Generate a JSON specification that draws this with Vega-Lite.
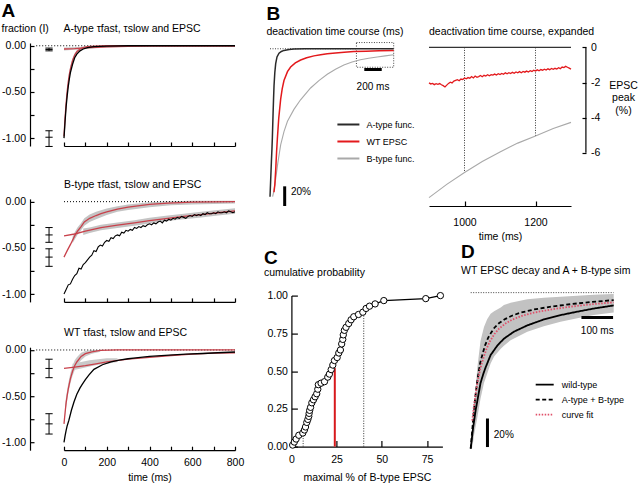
{
  "$schema": "https://vega.github.io/schema/vega-lite/v6.json",
  "background": "white",
  "padding": {"left": 1, "top": 2, "right": 0, "bottom": 0},
  "config": {
    "font": "Liberation Sans",
    "view": {"stroke": null},
    "axis": {"grid": false, "labelFontSize": 10.5, "labelColor": "#000", "domainColor": "#000", "tickColor": "#000", "titleFontWeight": "normal", "titleFontSize": 10.5, "titleColor": "#000", "labelFlush": false, "labelOverlap": false, "domainWidth": 1.2, "tickWidth": 1.2},
    "title": {"fontSize": 10.5, "fontWeight": "normal", "anchor": "start", "color": "#000", "subtitleFontSize": 10.5, "subtitleColor": "#000", "subtitleFont": "Liberation Sans"},
    "legend": {"labelFontSize": 9, "labelColor": "#000"},
    "locale": {"number": {"decimal": ".", "thousands": ",", "grouping": [3], "currency": ["$", ""], "minus": "-"}}
  },
  "resolve": {"scale": {"color": "independent", "strokeDash": "independent"}},
  "bounds": "flush",
  "spacing": 227.4,
  "hconcat": [
    {
      "title": {"text": "A", "fontSize": 19, "fontWeight": "bold", "frame": "bounds", "offset": 3},
      "bounds": "flush",
      "spacing": 52.9,
      "vconcat": [
        {
          "width": 171, "height": 103,
          "title": {"text": "fraction (I)\u00a0\u00a0\u00a0\u00a0\u00a0A-type τfast, τslow and EPSC", "offset": 6, "frame": "bounds"},
          "encoding": {
            "x": {"field": "t", "type": "quantitative", "scale": {"domain": [0, 800], "nice": false, "zero": false}, "axis": {"values": [0,100,200,300,400,500,600,700,800], "labels": false, "tickSize": -4, "title": null}},
            "y": {"field": "v", "type": "quantitative", "scale": {"domain": [-1.085, 0.03], "nice": false, "zero": false}, "axis": {"values": [-1,-0.75,-0.5,-0.25,0], "labelExpr": "datum.value % 0.5 === 0 ? format(datum.value, '.2f') : ''", "offset": 34, "tickSize": -4, "labelPadding": 8.5, "title": null}}
          },
          "layer": [
            {"data": {"values": [
              {"c":"f","t":0,"v":-1.0,"v2":-0.95},{"c":"f","t":5,"v":-0.81,"v2":-0.75},{"c":"f","t":10,"v":-0.65,"v2":-0.59},{"c":"f","t":15,"v":-0.52,"v2":-0.46},{"c":"f","t":20,"v":-0.42,"v2":-0.36},{"c":"f","t":25,"v":-0.34,"v2":-0.28},{"c":"f","t":30,"v":-0.28,"v2":-0.22},{"c":"f","t":40,"v":-0.185,"v2":-0.135},{"c":"f","t":50,"v":-0.12,"v2":-0.08},{"c":"f","t":60,"v":-0.085,"v2":-0.045},{"c":"f","t":75,"v":-0.05,"v2":-0.02},{"c":"f","t":90,"v":-0.035,"v2":-0.008},{"c":"f","t":110,"v":-0.02,"v2":0},{"c":"f","t":150,"v":-0.008,"v2":0},
              {"c":"s","t":0,"v":-0.05,"v2":-0.02},{"c":"s","t":100,"v":-0.035,"v2":-0.01},{"c":"s","t":200,"v":-0.02,"v2":-0.003},{"c":"s","t":300,"v":-0.01,"v2":0}
            ]},
             "mark": {"type": "area", "color": "#c9c9c9"},
             "encoding": {"y2": {"field": "v2"}, "detail": {"field": "c"}}},
            {"data": {"values": [{"t": -130, "t2": 800, "v": 0}]},
             "mark": {"type": "rule", "strokeDash": [1, 2], "color": "#000", "strokeWidth": 1},
             "encoding": {"x2": {"field": "t2"}}},
            {"data": {"values": [
              {"c":"f","t":0,"v":-0.98},{"c":"f","t":5,"v":-0.78},{"c":"f","t":10,"v":-0.62},{"c":"f","t":15,"v":-0.49},{"c":"f","t":20,"v":-0.39},{"c":"f","t":25,"v":-0.31},{"c":"f","t":30,"v":-0.25},{"c":"f","t":40,"v":-0.16},{"c":"f","t":50,"v":-0.10},{"c":"f","t":60,"v":-0.065},{"c":"f","t":75,"v":-0.035},{"c":"f","t":90,"v":-0.02},{"c":"f","t":110,"v":-0.01},{"c":"f","t":150,"v":-0.003},{"c":"f","t":200,"v":0},{"c":"f","t":800,"v":0},
              {"c":"s","t":0,"v":-0.035},{"c":"s","t":50,"v":-0.03},{"c":"s","t":100,"v":-0.022},{"c":"s","t":150,"v":-0.016},{"c":"s","t":200,"v":-0.011},{"c":"s","t":300,"v":-0.005},{"c":"s","t":400,"v":-0.002},{"c":"s","t":800,"v":0}
            ]},
             "mark": {"type": "line", "color": "#c8414b", "strokeWidth": 1.3},
             "encoding": {"detail": {"field": "c"}}},
            {"data": {"values": [
              {"t":0,"v":-1.0},{"t":5,"v":-0.82},{"t":10,"v":-0.66},{"t":15,"v":-0.54},{"t":20,"v":-0.44},{"t":25,"v":-0.36},{"t":30,"v":-0.29},{"t":40,"v":-0.20},{"t":50,"v":-0.13},{"t":60,"v":-0.09},{"t":75,"v":-0.055},{"t":90,"v":-0.035},{"t":110,"v":-0.02},{"t":140,"v":-0.01},{"t":200,"v":-0.004},{"t":300,"v":0},{"t":800,"v":0}
            ]},
             "mark": {"type": "line", "color": "#000", "strokeWidth": 1.3}},
            {"data": {"values": [{"t": -70, "v": -0.055, "v2": -0.025}, {"t": -70, "v": -1.09, "v2": -0.92}]},
             "mark": {"type": "rule", "color": "#000", "strokeWidth": 1},
             "encoding": {"y2": {"field": "v2"}}},
            {"data": {"values": [
              {"t": -87, "t2": -53, "v": -0.055}, {"t": -87, "t2": -53, "v": -0.04}, {"t": -87, "t2": -53, "v": -0.025},
              {"t": -87, "t2": -53, "v": -1.09}, {"t": -87, "t2": -53, "v": -0.99}, {"t": -87, "t2": -53, "v": -0.92}
            ]},
             "mark": {"type": "rule", "color": "#000", "strokeWidth": 1},
             "encoding": {"x2": {"field": "t2"}}}
          ]
        },
        {
          "bounds": "flush",
          "spacing": 45.3,
          "vconcat": [
            {
              "width": 171, "height": 103,
              "title": {"text": "B-type τfast, τslow and EPSC", "offset": 6, "frame": "group"},
              "encoding": {
                "x": {"field": "t", "type": "quantitative", "scale": {"domain": [0, 800], "nice": false, "zero": false}, "axis": {"values": [0,100,200,300,400,500,600,700,800], "labels": false, "tickSize": -4, "title": null}},
                "y": {"field": "v", "type": "quantitative", "scale": {"domain": [-1.085, 0.03], "nice": false, "zero": false}, "axis": {"values": [-1,-0.75,-0.5,-0.25,0], "labelExpr": "datum.value % 0.5 === 0 ? format(datum.value, '.2f') : ''", "offset": 34, "tickSize": -4, "labelPadding": 8.5, "title": null}}
              },
              "layer": [
                {"data": {"values": [
                  {"c":"f","t":40,"v":-0.45,"v2":-0.38},{"c":"f","t":50,"v":-0.41,"v2":-0.33},{"c":"f","t":63,"v":-0.36,"v2":-0.28},{"c":"f","t":80,"v":-0.31,"v2":-0.23},{"c":"f","t":95,"v":-0.26,"v2":-0.18},{"c":"f","t":120,"v":-0.22,"v2":-0.14},{"c":"f","t":150,"v":-0.19,"v2":-0.11},{"c":"f","t":200,"v":-0.145,"v2":-0.075},{"c":"f","t":250,"v":-0.11,"v2":-0.05},{"c":"f","t":300,"v":-0.09,"v2":-0.03},{"c":"f","t":400,"v":-0.06,"v2":-0.005},{"c":"f","t":500,"v":-0.04,"v2":0.005},{"c":"f","t":600,"v":-0.03,"v2":0.01},{"c":"f","t":800,"v":-0.02,"v2":0.01},
                  {"c":"s","t":90,"v":-0.36,"v2":-0.29},{"c":"s","t":120,"v":-0.34,"v2":-0.28},{"c":"s","t":173,"v":-0.31,"v2":-0.25},{"c":"s","t":250,"v":-0.285,"v2":-0.225},{"c":"s","t":330,"v":-0.26,"v2":-0.2},{"c":"s","t":400,"v":-0.235,"v2":-0.175},{"c":"s","t":486,"v":-0.21,"v2":-0.15},{"c":"s","t":560,"v":-0.19,"v2":-0.13},{"c":"s","t":642,"v":-0.17,"v2":-0.11},{"c":"s","t":720,"v":-0.15,"v2":-0.09},{"c":"s","t":800,"v":-0.13,"v2":-0.07}
                ]},
                 "mark": {"type": "area", "color": "#c4c4c4"},
                 "encoding": {"y2": {"field": "v2"}, "detail": {"field": "c"}}},
                {"data": {"values": [{"t": 0, "t2": 800, "v": 0}]},
                 "mark": {"type": "rule", "strokeDash": [1, 2], "color": "#000", "strokeWidth": 1},
                 "encoding": {"x2": {"field": "t2"}}},
                {"data": {"values": [
                  {"c":"f","t":0,"v":-0.6},{"c":"f","t":15,"v":-0.53},{"c":"f","t":31,"v":-0.46},{"c":"f","t":50,"v":-0.37},{"c":"f","t":63,"v":-0.32},{"c":"f","t":80,"v":-0.27},{"c":"f","t":95,"v":-0.22},{"c":"f","t":120,"v":-0.18},{"c":"f","t":150,"v":-0.15},{"c":"f","t":173,"v":-0.13},{"c":"f","t":200,"v":-0.11},{"c":"f","t":250,"v":-0.08},{"c":"f","t":300,"v":-0.06},{"c":"f","t":400,"v":-0.03},{"c":"f","t":486,"v":-0.015},{"c":"f","t":600,"v":-0.005},{"c":"f","t":800,"v":0},
                  {"c":"s","t":0,"v":-0.37},{"c":"s","t":50,"v":-0.35},{"c":"s","t":100,"v":-0.32},{"c":"s","t":173,"v":-0.28},{"c":"s","t":250,"v":-0.255},{"c":"s","t":330,"v":-0.23},{"c":"s","t":400,"v":-0.205},{"c":"s","t":486,"v":-0.18},{"c":"s","t":560,"v":-0.16},{"c":"s","t":642,"v":-0.14},{"c":"s","t":720,"v":-0.12},{"c":"s","t":800,"v":-0.1}
                ]},
                 "mark": {"type": "line", "color": "#c8414b", "strokeWidth": 1.3},
                 "encoding": {"detail": {"field": "c"}}},
                {"data": {"values": [
                  {"t":0,"v":-1.0},{"t":10,"v":-0.95},{"t":20,"v":-0.9},{"t":30,"v":-0.89},{"t":40,"v":-0.84},{"t":50,"v":-0.8},{"t":60,"v":-0.78},{"t":70,"v":-0.72},{"t":80,"v":-0.73},{"t":90,"v":-0.68},{"t":100,"v":-0.66},{"t":110,"v":-0.63},{"t":120,"v":-0.6},{"t":130,"v":-0.58},{"t":140,"v":-0.53},{"t":150,"v":-0.54},{"t":160,"v":-0.49},{"t":170,"v":-0.47},{"t":180,"v":-0.48},{"t":190,"v":-0.44},{"t":200,"v":-0.42},{"t":210,"v":-0.43},{"t":220,"v":-0.39},{"t":230,"v":-0.4},{"t":240,"v":-0.37},{"t":250,"v":-0.36},{"t":260,"v":-0.37},{"t":270,"v":-0.33},{"t":280,"v":-0.34},{"t":290,"v":-0.31},{"t":300,"v":-0.32},{"t":310,"v":-0.3},{"t":320,"v":-0.31},{"t":330,"v":-0.28},{"t":340,"v":-0.29},{"t":350,"v":-0.27},{"t":360,"v":-0.28},{"t":370,"v":-0.26},{"t":380,"v":-0.27},{"t":390,"v":-0.25},{"t":400,"v":-0.24},{"t":410,"v":-0.25},{"t":420,"v":-0.23},{"t":430,"v":-0.24},{"t":440,"v":-0.22},{"t":450,"v":-0.21},{"t":460,"v":-0.23},{"t":470,"v":-0.2},{"t":480,"v":-0.21},{"t":490,"v":-0.19},{"t":500,"v":-0.2},{"t":510,"v":-0.18},{"t":520,"v":-0.19},{"t":530,"v":-0.17},{"t":540,"v":-0.18},{"t":550,"v":-0.16},{"t":560,"v":-0.17},{"t":570,"v":-0.18},{"t":580,"v":-0.16},{"t":590,"v":-0.15},{"t":600,"v":-0.16},{"t":610,"v":-0.14},{"t":620,"v":-0.15},{"t":630,"v":-0.14},{"t":640,"v":-0.15},{"t":650,"v":-0.13},{"t":660,"v":-0.14},{"t":670,"v":-0.12},{"t":680,"v":-0.13},{"t":690,"v":-0.13},{"t":700,"v":-0.12},{"t":710,"v":-0.13},{"t":720,"v":-0.11},{"t":730,"v":-0.12},{"t":740,"v":-0.12},{"t":750,"v":-0.11},{"t":760,"v":-0.12},{"t":770,"v":-0.1},{"t":780,"v":-0.11},{"t":790,"v":-0.12},{"t":800,"v":-0.11}
                ]},
                 "mark": {"type": "line", "color": "#000", "strokeWidth": 1.1}},
                {"data": {"values": [{"t": -70, "v": -0.44, "v2": -0.28}, {"t": -70, "v": -0.70, "v2": -0.51}]},
                 "mark": {"type": "rule", "color": "#000", "strokeWidth": 1},
                 "encoding": {"y2": {"field": "v2"}}},
                {"data": {"values": [
                  {"t": -87, "t2": -53, "v": -0.44}, {"t": -87, "t2": -53, "v": -0.36}, {"t": -87, "t2": -53, "v": -0.28},
                  {"t": -87, "t2": -53, "v": -0.70}, {"t": -87, "t2": -53, "v": -0.60}, {"t": -87, "t2": -53, "v": -0.51}
                ]},
                 "mark": {"type": "rule", "color": "#000", "strokeWidth": 1},
                 "encoding": {"x2": {"field": "t2"}}}
              ]
            },
            {
              "width": 171, "height": 103,
              "title": {"text": "WT τfast, τslow and EPSC", "offset": 6, "frame": "group"},
              "encoding": {
                "x": {"field": "t", "type": "quantitative", "scale": {"domain": [0, 800], "nice": false, "zero": false}, "axis": {"values": [0,100,200,300,400,500,600,700,800], "labelExpr": "datum.value % 200 === 0 ? datum.label : ''", "tickSize": -4, "labelPadding": 11, "title": "time (ms)", "titlePadding": 5}},
                "y": {"field": "v", "type": "quantitative", "scale": {"domain": [-1.085, 0.03], "nice": false, "zero": false}, "axis": {"values": [-1,-0.75,-0.5,-0.25,0], "labelExpr": "datum.value % 0.5 === 0 ? format(datum.value, '.2f') : ''", "offset": 34, "tickSize": -4, "labelPadding": 8.5, "title": null}}
              },
              "layer": [
                {"data": {"values": [
                  {"c":"f","t":5,"v":-0.72,"v2":-0.6},{"c":"f","t":10,"v":-0.62,"v2":-0.5},{"c":"f","t":20,"v":-0.47,"v2":-0.36},{"c":"f","t":30,"v":-0.36,"v2":-0.25},{"c":"f","t":40,"v":-0.28,"v2":-0.17},{"c":"f","t":50,"v":-0.22,"v2":-0.11},{"c":"f","t":60,"v":-0.17,"v2":-0.08},{"c":"f","t":80,"v":-0.11,"v2":-0.03},{"c":"f","t":100,"v":-0.07,"v2":-0.01},{"c":"f","t":130,"v":-0.04,"v2":0},{"c":"f","t":170,"v":-0.02,"v2":0},
                  {"c":"s","t":40,"v":-0.22,"v2":-0.15},{"c":"s","t":80,"v":-0.2,"v2":-0.13},{"c":"s","t":120,"v":-0.18,"v2":-0.11},{"c":"s","t":160,"v":-0.16,"v2":-0.1},{"c":"s","t":200,"v":-0.15,"v2":-0.09},{"c":"s","t":250,"v":-0.13,"v2":-0.09}
                ]},
                 "mark": {"type": "area", "color": "#c9c9c9"},
                 "encoding": {"y2": {"field": "v2"}, "detail": {"field": "c"}}},
                {"data": {"values": [{"t": -130, "t2": 800, "v": 0}]},
                 "mark": {"type": "rule", "strokeDash": [1, 2], "color": "#000", "strokeWidth": 1},
                 "encoding": {"x2": {"field": "t2"}}},
                {"data": {"values": [
                  {"c":"f","t":0,"v":-0.8},{"c":"f","t":5,"v":-0.68},{"c":"f","t":10,"v":-0.57},{"c":"f","t":15,"v":-0.49},{"c":"f","t":20,"v":-0.42},{"c":"f","t":30,"v":-0.31},{"c":"f","t":40,"v":-0.23},{"c":"f","t":50,"v":-0.17},{"c":"f","t":60,"v":-0.13},{"c":"f","t":80,"v":-0.07},{"c":"f","t":100,"v":-0.04},{"c":"f","t":130,"v":-0.02},{"c":"f","t":170,"v":-0.005},{"c":"f","t":250,"v":0},{"c":"f","t":800,"v":0},
                  {"c":"s","t":0,"v":-0.2},{"c":"s","t":50,"v":-0.185},{"c":"s","t":100,"v":-0.17},{"c":"s","t":150,"v":-0.15},{"c":"s","t":200,"v":-0.13},{"c":"s","t":300,"v":-0.1},{"c":"s","t":400,"v":-0.08},{"c":"s","t":500,"v":-0.06},{"c":"s","t":600,"v":-0.045},{"c":"s","t":700,"v":-0.035},{"c":"s","t":800,"v":-0.03}
                ]},
                 "mark": {"type": "line", "color": "#c8414b", "strokeWidth": 1.3},
                 "encoding": {"detail": {"field": "c"}}},
                {"data": {"values": [
                  {"t":0,"v":-1.0},{"t":5,"v":-0.93},{"t":10,"v":-0.87},{"t":15,"v":-0.82},{"t":23,"v":-0.76},{"t":35,"v":-0.65},{"t":47,"v":-0.56},{"t":60,"v":-0.48},{"t":75,"v":-0.41},{"t":86,"v":-0.37},{"t":100,"v":-0.32},{"t":117,"v":-0.27},{"t":140,"v":-0.21},{"t":180,"v":-0.16},{"t":220,"v":-0.13},{"t":258,"v":-0.11},{"t":300,"v":-0.095},{"t":336,"v":-0.085},{"t":400,"v":-0.07},{"t":492,"v":-0.055},{"t":570,"v":-0.045},{"t":648,"v":-0.038},{"t":720,"v":-0.03},{"t":800,"v":-0.022}
                ]},
                 "mark": {"type": "line", "color": "#000", "strokeWidth": 1.3}},
                {"data": {"values": [{"t": -70, "v": -0.30, "v2": -0.10}, {"t": -70, "v": -0.91, "v2": -0.69}]},
                 "mark": {"type": "rule", "color": "#000", "strokeWidth": 1},
                 "encoding": {"y2": {"field": "v2"}}},
                {"data": {"values": [
                  {"t": -87, "t2": -53, "v": -0.30}, {"t": -87, "t2": -53, "v": -0.20}, {"t": -87, "t2": -53, "v": -0.10},
                  {"t": -87, "t2": -53, "v": -0.91}, {"t": -87, "t2": -53, "v": -0.80}, {"t": -87, "t2": -53, "v": -0.69}
                ]},
                 "mark": {"type": "rule", "color": "#000", "strokeWidth": 1},
                 "encoding": {"x2": {"field": "t2"}}}
              ]
            }
          ]
        }
      ]
    },
    {
      "resolve": {"scale": {"color": "independent", "strokeDash": "independent"}},
      "bounds": "flush",
      "spacing": 252.6,
      "vconcat": [
        {
          "title": {"text": "B", "fontSize": 19, "fontWeight": "bold", "frame": "bounds", "offset": 3},
          "resolve": {"scale": {"color": "independent", "strokeDash": "independent"}},
          "bounds": "flush",
          "spacing": 34.6,
          "hconcat": [
            {
              "width": 103, "height": 163,
              "title": {"text": "deactivation time course (ms)", "offset": 5, "frame": "group", "dx": -25},
              "encoding": {
                "x": {"field": "t", "type": "quantitative", "scale": {"domain": [245, 1425], "nice": false, "zero": false}, "axis": null},
                "y": {"field": "v", "type": "quantitative", "scale": {"domain": [-106.3, 3.9], "nice": false, "zero": false}, "axis": null}
              },
              "layer": [
                {"data": {"values": [{"t": 0, "t2": 990, "v": 0}]},
                 "mark": {"type": "rule", "strokeDash": [1, 1.5], "color": "#444", "strokeWidth": 1},
                 "encoding": {"x2": {"field": "t2"}}},
                {"data": {"values": [{"t": 990, "t2": 1417, "v": -12.5, "v2": 4.2}]},
                 "mark": {"type": "rect", "fillOpacity": 0, "stroke": "#444", "strokeWidth": 1, "strokeDash": [1, 1.5]},
                 "encoding": {"x2": {"field": "t2"}, "y2": {"field": "v2"}}},
                {"data": {"values": [
                  {"trace":"B-type func.","t":30,"v":-100},{"trace":"B-type func.","t":45,"v":-96},{"trace":"B-type func.","t":60,"v":-90},{"trace":"B-type func.","t":90,"v":-77},{"trace":"B-type func.","t":122,"v":-65},{"trace":"B-type func.","t":160,"v":-56},{"trace":"B-type func.","t":200,"v":-49},{"trace":"B-type func.","t":274,"v":-41},{"trace":"B-type func.","t":350,"v":-34.5},{"trace":"B-type func.","t":465,"v":-26.5},{"trace":"B-type func.","t":560,"v":-21.5},{"trace":"B-type func.","t":656,"v":-17.2},{"trace":"B-type func.","t":750,"v":-13.8},{"trace":"B-type func.","t":846,"v":-11},{"trace":"B-type func.","t":940,"v":-9},{"trace":"B-type func.","t":1036,"v":-7.4},{"trace":"B-type func.","t":1130,"v":-6.4},{"trace":"B-type func.","t":1227,"v":-5.6},{"trace":"B-type func.","t":1320,"v":-4.8},{"trace":"B-type func.","t":1417,"v":-4.0}
                ]},
                 "mark": {"type": "line", "strokeWidth": 1.1},
                 "encoding": {"color": {"field": "trace", "type": "nominal", "scale": {"domain": ["A-type func.", "WT EPSC", "B-type func."], "range": ["#2a2a2a", "#e3191c", "#a9a9a9"]}, "legend": {"orient": "none", "legendX": 45, "legendY": 69.5, "title": null, "symbolType": "M-1,0H1", "symbolSize": 484, "symbolStrokeWidth": 2, "rowPadding": -7, "labelOffset": 6}}}},
                {"data": {"values": [
                  {"trace":"WT EPSC","t":45,"v":-97},{"trace":"WT EPSC","t":55,"v":-92},{"trace":"WT EPSC","t":65,"v":-82},{"trace":"WT EPSC","t":75,"v":-70},{"trace":"WT EPSC","t":84,"v":-61},{"trace":"WT EPSC","t":100,"v":-47},{"trace":"WT EPSC","t":122,"v":-34},{"trace":"WT EPSC","t":140,"v":-27},{"trace":"WT EPSC","t":160,"v":-21.5},{"trace":"WT EPSC","t":200,"v":-15.5},{"trace":"WT EPSC","t":236,"v":-12.3},{"trace":"WT EPSC","t":290,"v":-9.5},{"trace":"WT EPSC","t":351,"v":-7.6},{"trace":"WT EPSC","t":420,"v":-6.1},{"trace":"WT EPSC","t":503,"v":-4.8},{"trace":"WT EPSC","t":580,"v":-4.0},{"trace":"WT EPSC","t":656,"v":-3.4},{"trace":"WT EPSC","t":750,"v":-2.8},{"trace":"WT EPSC","t":850,"v":-2.3},{"trace":"WT EPSC","t":960,"v":-1.9},{"trace":"WT EPSC","t":1100,"v":-1.6},{"trace":"WT EPSC","t":1250,"v":-1.4},{"trace":"WT EPSC","t":1417,"v":-1.1}
                ]},
                 "mark": {"type": "line", "strokeWidth": 1.5},
                 "encoding": {"color": {"field": "trace", "type": "nominal", "scale": {"domain": ["A-type func.", "WT EPSC", "B-type func."], "range": ["#2a2a2a", "#e3191c", "#a9a9a9"]}, "legend": {"orient": "none", "legendX": 45, "legendY": 69.5, "title": null, "symbolType": "M-1,0H1", "symbolSize": 484, "symbolStrokeWidth": 2, "rowPadding": -7, "labelOffset": 6}}}},
                {"data": {"values": [
                  {"trace":"A-type func.","t":0,"v":-100},{"trace":"A-type func.","t":8,"v":-88},{"trace":"A-type func.","t":16,"v":-76},{"trace":"A-type func.","t":22,"v":-68},{"trace":"A-type func.","t":27,"v":-60},{"trace":"A-type func.","t":35,"v":-44},{"trace":"A-type func.","t":41,"v":-33},{"trace":"A-type func.","t":46,"v":-25},{"trace":"A-type func.","t":55,"v":-16},{"trace":"A-type func.","t":65,"v":-10},{"trace":"A-type func.","t":80,"v":-5.5},{"trace":"A-type func.","t":103,"v":-3},{"trace":"A-type func.","t":130,"v":-1.8},{"trace":"A-type func.","t":160,"v":-1.1},{"trace":"A-type func.","t":220,"v":-0.5},{"trace":"A-type func.","t":274,"v":-0.2},{"trace":"A-type func.","t":400,"v":-0.05},{"trace":"A-type func.","t":600,"v":0},{"trace":"A-type func.","t":1417,"v":0}
                ]},
                 "mark": {"type": "line", "strokeWidth": 1.5},
                 "encoding": {"color": {"field": "trace", "type": "nominal", "scale": {"domain": ["A-type func.", "WT EPSC", "B-type func."], "range": ["#2a2a2a", "#e3191c", "#a9a9a9"]}, "legend": {"orient": "none", "legendX": 45, "legendY": 69.5, "title": null, "symbolType": "M-1,0H1", "symbolSize": 484, "symbolStrokeWidth": 2, "rowPadding": -7, "labelOffset": 6}}}},
                {"data": {"values": [{"t": 1080, "t2": 1280, "v": -14}]},
                 "mark": {"type": "rule", "color": "#000", "strokeWidth": 3},
                 "encoding": {"x2": {"field": "t2"}}},
                {"data": {"values": [{"t": 168, "v": -93, "v2": -106.3}]},
                 "mark": {"type": "rule", "color": "#000", "strokeWidth": 3},
                 "encoding": {"y2": {"field": "v2"}}},
                {"data": {"values": [{"t": 1180, "v": -26, "label": "200 ms"}]},
                 "mark": {"type": "text", "fontSize": 10, "color": "#000", "baseline": "middle", "align": "center"},
                 "encoding": {"text": {"field": "label"}}},
                {"data": {"values": [{"t": 240, "v": -97, "label": "20%"}]},
                 "mark": {"type": "text", "fontSize": 10, "color": "#000", "baseline": "middle", "align": "left"},
                 "encoding": {"text": {"field": "label"}}}
              ]
            },
            {
              "width": 142, "height": 163,
              "title": {"text": "deactivation time course, expanded", "offset": 5, "frame": "group"},
              "encoding": {
                "x": {"field": "t", "type": "quantitative", "scale": {"domain": [900, 1300], "nice": false, "zero": false}, "axis": {"values": [1000, 1200], "format": "d", "tickSize": -5, "labelPadding": 16, "title": "time (ms)", "titlePadding": 4}},
                "y": {"field": "v", "type": "quantitative", "scale": {"domain": [-9.03, 0.25], "nice": false, "zero": false}, "axis": {"orient": "right", "offset": 15, "domain": false, "values": [0, -2, -4, -6], "format": "d", "tickSize": -4, "labelPadding": 8.5, "title": ["EPSC", "peak", "(%)"], "titleAngle": 0, "titleAlign": "center", "titleBaseline": "top", "titleX": 37, "titleY": 37, "titleLineHeight": 12.5}}
              },
              "layer": [
                {"data": {"values": [{"t": 1000, "v": 0, "v2": -7.15}, {"t": 1200, "v": 0, "v2": -5.08}]},
                 "mark": {"type": "rule", "strokeDash": [1, 1.5], "color": "#333", "strokeWidth": 1},
                 "encoding": {"y2": {"field": "v2"}}},
                {"data": {"values": [{"t": 900, "v": 0}, {"t": 1300, "v": 0}]},
                 "mark": {"type": "line", "color": "#333", "strokeWidth": 1.4}},
                {"data": {"values": [{"t":900,"v":-8.55},{"t":950,"v":-7.8},{"t":1000,"v":-7.12},{"t":1050,"v":-6.5},{"t":1100,"v":-5.95},{"t":1150,"v":-5.45},{"t":1200,"v":-5.05},{"t":1250,"v":-4.62},{"t":1300,"v":-4.27}]},
                 "mark": {"type": "line", "color": "#a9a9a9", "strokeWidth": 1.1}},
                {"data": {"values": [
                  {"t":900,"v":-2.02},{"t":905,"v":-2.08},{"t":910,"v":-2.05},{"t":915,"v":-2.12},{"t":920,"v":-2.07},{"t":925,"v":-2.1},{"t":930,"v":-2.06},{"t":935,"v":-2.13},{"t":940,"v":-2.18},{"t":945,"v":-2.25},{"t":950,"v":-2.15},{"t":955,"v":-2.05},{"t":960,"v":-1.98},{"t":965,"v":-2.02},{"t":970,"v":-1.92},{"t":975,"v":-1.88},{"t":980,"v":-1.84},{"t":985,"v":-1.9},{"t":990,"v":-1.8},{"t":995,"v":-1.83},{"t":1000,"v":-1.74},{"t":1005,"v":-1.79},{"t":1010,"v":-1.72},{"t":1015,"v":-1.76},{"t":1020,"v":-1.66},{"t":1025,"v":-1.74},{"t":1030,"v":-1.63},{"t":1035,"v":-1.7},{"t":1040,"v":-1.66},{"t":1045,"v":-1.6},{"t":1050,"v":-1.67},{"t":1055,"v":-1.59},{"t":1060,"v":-1.63},{"t":1065,"v":-1.56},{"t":1070,"v":-1.62},{"t":1075,"v":-1.55},{"t":1080,"v":-1.58},{"t":1085,"v":-1.52},{"t":1090,"v":-1.57},{"t":1095,"v":-1.5},{"t":1100,"v":-1.55},{"t":1105,"v":-1.48},{"t":1110,"v":-1.53},{"t":1115,"v":-1.45},{"t":1120,"v":-1.5},{"t":1125,"v":-1.44},{"t":1130,"v":-1.49},{"t":1135,"v":-1.42},{"t":1140,"v":-1.47},{"t":1145,"v":-1.4},{"t":1150,"v":-1.45},{"t":1155,"v":-1.38},{"t":1160,"v":-1.44},{"t":1165,"v":-1.37},{"t":1170,"v":-1.41},{"t":1175,"v":-1.35},{"t":1180,"v":-1.4},{"t":1185,"v":-1.33},{"t":1190,"v":-1.37},{"t":1195,"v":-1.3},{"t":1200,"v":-1.35},{"t":1205,"v":-1.28},{"t":1210,"v":-1.33},{"t":1215,"v":-1.26},{"t":1220,"v":-1.3},{"t":1225,"v":-1.24},{"t":1230,"v":-1.29},{"t":1235,"v":-1.22},{"t":1240,"v":-1.27},{"t":1245,"v":-1.2},{"t":1250,"v":-1.25},{"t":1255,"v":-1.19},{"t":1260,"v":-1.23},{"t":1265,"v":-1.16},{"t":1270,"v":-1.21},{"t":1275,"v":-1.12},{"t":1280,"v":-1.15},{"t":1285,"v":-1.08},{"t":1290,"v":-1.13},{"t":1295,"v":-1.18},{"t":1300,"v":-1.24}
                ]},
                 "mark": {"type": "line", "color": "#e3191c", "strokeWidth": 1.3}},
                {"data": {"values": [{"t": 1342, "v": 0, "v2": -6}]},
                 "mark": {"type": "rule", "color": "#000", "strokeWidth": 1.2},
                 "encoding": {"y2": {"field": "v2"}}}
              ]
            }
          ]
        },
        {
          "resolve": {"scale": {"color": "independent", "strokeDash": "independent"}},
          "bounds": "flush",
          "spacing": 28.3,
          "hconcat": [
            {
              "width": 151, "height": 151,
              "title": {"text": "C", "fontSize": 19, "fontWeight": "bold", "frame": "bounds", "subtitle": "cumulative probability", "subtitlePadding": 0, "offset": 12, "dx": -3},
              "encoding": {
                "x": {"field": "x", "type": "quantitative", "scale": {"domain": [0, 83.5], "nice": false, "zero": false}, "axis": {"values": [0, 25, 50, 75], "tickSize": -6, "labelPadding": 14, "title": "maximal % of B-type EPSC", "titlePadding": 7}},
                "y": {"field": "y", "type": "quantitative", "scale": {"domain": [0, 1], "nice": false, "zero": false}, "axis": {"values": [0, 0.25, 0.5, 0.75, 1], "format": ".2f", "tickSize": -6, "labelPadding": 10, "title": null}}
              },
              "layer": [
                {"data": {"values": [{"x": 6.5, "y": 0, "y2": 0.1}, {"x": 40, "y": 0, "y2": 0.89}]},
                 "mark": {"type": "rule", "strokeDash": [1, 1.5], "color": "#333", "strokeWidth": 1},
                 "encoding": {"y2": {"field": "y2"}}},
                {"data": {"values": [{"x": 24, "y": 0, "y2": 0.52}]},
                 "mark": {"type": "rule", "color": "#d7191c", "strokeWidth": 2},
                 "encoding": {"y2": {"field": "y2"}}},
                {"data": {"values": [
                  {"x":0.7,"y":0.01},{"x":1.6,"y":0.03},{"x":2.6,"y":0.05},{"x":4.1,"y":0.075},{"x":6.3,"y":0.09},{"x":7.2,"y":0.11},{"x":7.8,"y":0.13},{"x":8.5,"y":0.16},{"x":9.1,"y":0.18},{"x":9.6,"y":0.2},{"x":9.8,"y":0.22},{"x":10.1,"y":0.24},{"x":10.6,"y":0.26},{"x":11.3,"y":0.29},{"x":12.2,"y":0.31},{"x":13.1,"y":0.33},{"x":14,"y":0.35},{"x":14.6,"y":0.38},{"x":14.9,"y":0.41},{"x":16.4,"y":0.42},{"x":18.3,"y":0.43},{"x":20.1,"y":0.46},{"x":21,"y":0.48},{"x":22,"y":0.51},{"x":22.9,"y":0.54},{"x":23.8,"y":0.57},{"x":25.3,"y":0.59},{"x":26.2,"y":0.62},{"x":27.1,"y":0.64},{"x":27.8,"y":0.68},{"x":28.4,"y":0.71},{"x":28.7,"y":0.74},{"x":29.3,"y":0.77},{"x":30.2,"y":0.79},{"x":31.7,"y":0.815},{"x":33,"y":0.84},{"x":34.5,"y":0.86},{"x":37.1,"y":0.875},{"x":39.5,"y":0.89},{"x":41.3,"y":0.915},{"x":43.2,"y":0.93},{"x":46.3,"y":0.945},{"x":51.1,"y":0.967},{"x":74.3,"y":0.98},{"x":82.4,"y":1.0}
                ]},
                 "mark": {"type": "line", "color": "#000", "strokeWidth": 1.2, "point": {"filled": false, "fill": "white", "stroke": "#000", "size": 40, "strokeWidth": 1}}}
              ]
            },
            {
              "width": 143, "height": 153,
              "title": {"text": "D", "fontSize": 19, "fontWeight": "bold", "frame": "bounds", "subtitle": "WT EPSC decay and A + B-type sim", "subtitlePadding": 4, "offset": 16, "dx": -6},
              "encoding": {
                "x": {"field": "t", "type": "quantitative", "scale": {"domain": [0, 452], "nice": false, "zero": false}, "axis": null},
                "y": {"field": "v", "type": "quantitative", "scale": {"domain": [-100, -1.9], "nice": false, "zero": false}, "axis": null}
              },
              "layer": [
                {"data": {"values": [{"t": 0, "t2": 452, "v": 0}]},
                 "mark": {"type": "rule", "strokeDash": [1, 1.5], "color": "#444", "strokeWidth": 1},
                 "encoding": {"x2": {"field": "t2"}}},
                {"data": {"values": [
                  {"t":5,"v":-100,"v2":-96},{"t":10,"v":-92,"v2":-75},{"t":21,"v":-80,"v2":-48},{"t":31,"v":-68,"v2":-31},{"t":42,"v":-58,"v2":-22},{"t":52,"v":-52,"v2":-17},{"t":63,"v":-45.5,"v2":-13.5},{"t":74,"v":-41,"v2":-12},{"t":95,"v":-36,"v2":-9.5},{"t":105,"v":-34,"v2":-8},{"t":126,"v":-30.5,"v2":-6.5},{"t":179,"v":-25,"v2":-4.3},{"t":231,"v":-21.5,"v2":-3.3},{"t":284,"v":-18.6,"v2":-2.6},{"t":337,"v":-16.4,"v2":-2},{"t":389,"v":-14.4,"v2":-1.4},{"t":452,"v":-12.8,"v2":-0.9}
                ]},
                 "mark": {"type": "area", "color": "#c2c2c2"},
                 "encoding": {"y2": {"field": "v2"}}},
                {"data": {"values": [
                  {"sim":"wild-type","t":0,"v":-100},{"sim":"wild-type","t":8,"v":-86},{"sim":"wild-type","t":16,"v":-75},{"sim":"wild-type","t":24,"v":-66},{"sim":"wild-type","t":31,"v":-58},{"sim":"wild-type","t":40,"v":-52},{"sim":"wild-type","t":47,"v":-48},{"sim":"wild-type","t":55,"v":-44},{"sim":"wild-type","t":63,"v":-40},{"sim":"wild-type","t":84,"v":-34},{"sim":"wild-type","t":105,"v":-29.5},{"sim":"wild-type","t":137,"v":-25},{"sim":"wild-type","t":179,"v":-21},{"sim":"wild-type","t":231,"v":-17.2},{"sim":"wild-type","t":284,"v":-14.4},{"sim":"wild-type","t":337,"v":-12.2},{"sim":"wild-type","t":389,"v":-10.2},{"sim":"wild-type","t":452,"v":-8.2},
                  {"sim":"A-type + B-type","t":0,"v":-100},{"sim":"A-type + B-type","t":5,"v":-88},{"sim":"A-type + B-type","t":10,"v":-76},{"sim":"A-type + B-type","t":15,"v":-66},{"sim":"A-type + B-type","t":20,"v":-58},{"sim":"A-type + B-type","t":25,"v":-51},{"sim":"A-type + B-type","t":30,"v":-45},{"sim":"A-type + B-type","t":38,"v":-39},{"sim":"A-type + B-type","t":45,"v":-34},{"sim":"A-type + B-type","t":55,"v":-29},{"sim":"A-type + B-type","t":65,"v":-25.5},{"sim":"A-type + B-type","t":75,"v":-22.5},{"sim":"A-type + B-type","t":90,"v":-19.5},{"sim":"A-type + B-type","t":110,"v":-16.8},{"sim":"A-type + B-type","t":130,"v":-14.8},{"sim":"A-type + B-type","t":160,"v":-12.7},{"sim":"A-type + B-type","t":200,"v":-10.8},{"sim":"A-type + B-type","t":260,"v":-8.8},{"sim":"A-type + B-type","t":320,"v":-7.3},{"sim":"A-type + B-type","t":380,"v":-6.0},{"sim":"A-type + B-type","t":452,"v":-4.8},
                  {"sim":"curve fit","t":5,"v":-82},{"sim":"curve fit","t":10,"v":-73},{"sim":"curve fit","t":20,"v":-59},{"sim":"curve fit","t":30,"v":-49},{"sim":"curve fit","t":40,"v":-42},{"sim":"curve fit","t":50,"v":-36},{"sim":"curve fit","t":60,"v":-31.5},{"sim":"curve fit","t":75,"v":-26.5},{"sim":"curve fit","t":90,"v":-23},{"sim":"curve fit","t":110,"v":-19.8},{"sim":"curve fit","t":130,"v":-17.4},{"sim":"curve fit","t":160,"v":-15},{"sim":"curve fit","t":200,"v":-12.8},{"sim":"curve fit","t":260,"v":-10.6},{"sim":"curve fit","t":320,"v":-8.9},{"sim":"curve fit","t":380,"v":-7.5},{"sim":"curve fit","t":452,"v":-6.2}
                ]},
                 "mark": {"type": "line", "strokeWidth": 1.8},
                 "encoding": {
                   "color": {"field": "sim", "type": "nominal", "scale": {"domain": ["wild-type", "A-type + B-type", "curve fit"], "range": ["#000000", "#000000", "#e0506a"]}, "legend": {"orient": "none", "legendX": 64, "legendY": 79, "title": null, "symbolType": "M-1,0H1", "symbolSize": 324, "symbolStrokeWidth": 1.8, "rowPadding": -4.5, "labelOffset": 7}},
                   "strokeDash": {"field": "sim", "type": "nominal", "scale": {"domain": ["wild-type", "A-type + B-type", "curve fit"], "range": [[1, 0], [4, 2.5], [1.5, 1.5]]}, "legend": {"orient": "none", "legendX": 64, "legendY": 79, "title": null, "symbolType": "M-1,0H1", "symbolSize": 324, "symbolStrokeWidth": 1.8, "rowPadding": -4.5, "labelOffset": 7}}
                 }},
                {"data": {"values": [{"t": 350, "t2": 450, "v": -16}]},
                 "mark": {"type": "rule", "color": "#000", "strokeWidth": 3},
                 "encoding": {"x2": {"field": "t2"}}},
                {"data": {"values": [{"t": 53, "v": -80.7, "v2": -99}]},
                 "mark": {"type": "rule", "color": "#000", "strokeWidth": 3},
                 "encoding": {"y2": {"field": "v2"}}},
                {"data": {"values": [{"t": 400, "v": -24.5, "label": "100 ms"}]},
                 "mark": {"type": "text", "fontSize": 10, "color": "#000", "baseline": "middle", "align": "center"},
                 "encoding": {"text": {"field": "label"}}},
                {"data": {"values": [{"t": 73, "v": -91, "label": "20%"}]},
                 "mark": {"type": "text", "fontSize": 10, "color": "#000", "baseline": "middle", "align": "left"},
                 "encoding": {"text": {"field": "label"}}}
              ]
            }
          ]
        }
      ]
    }
  ]
}
